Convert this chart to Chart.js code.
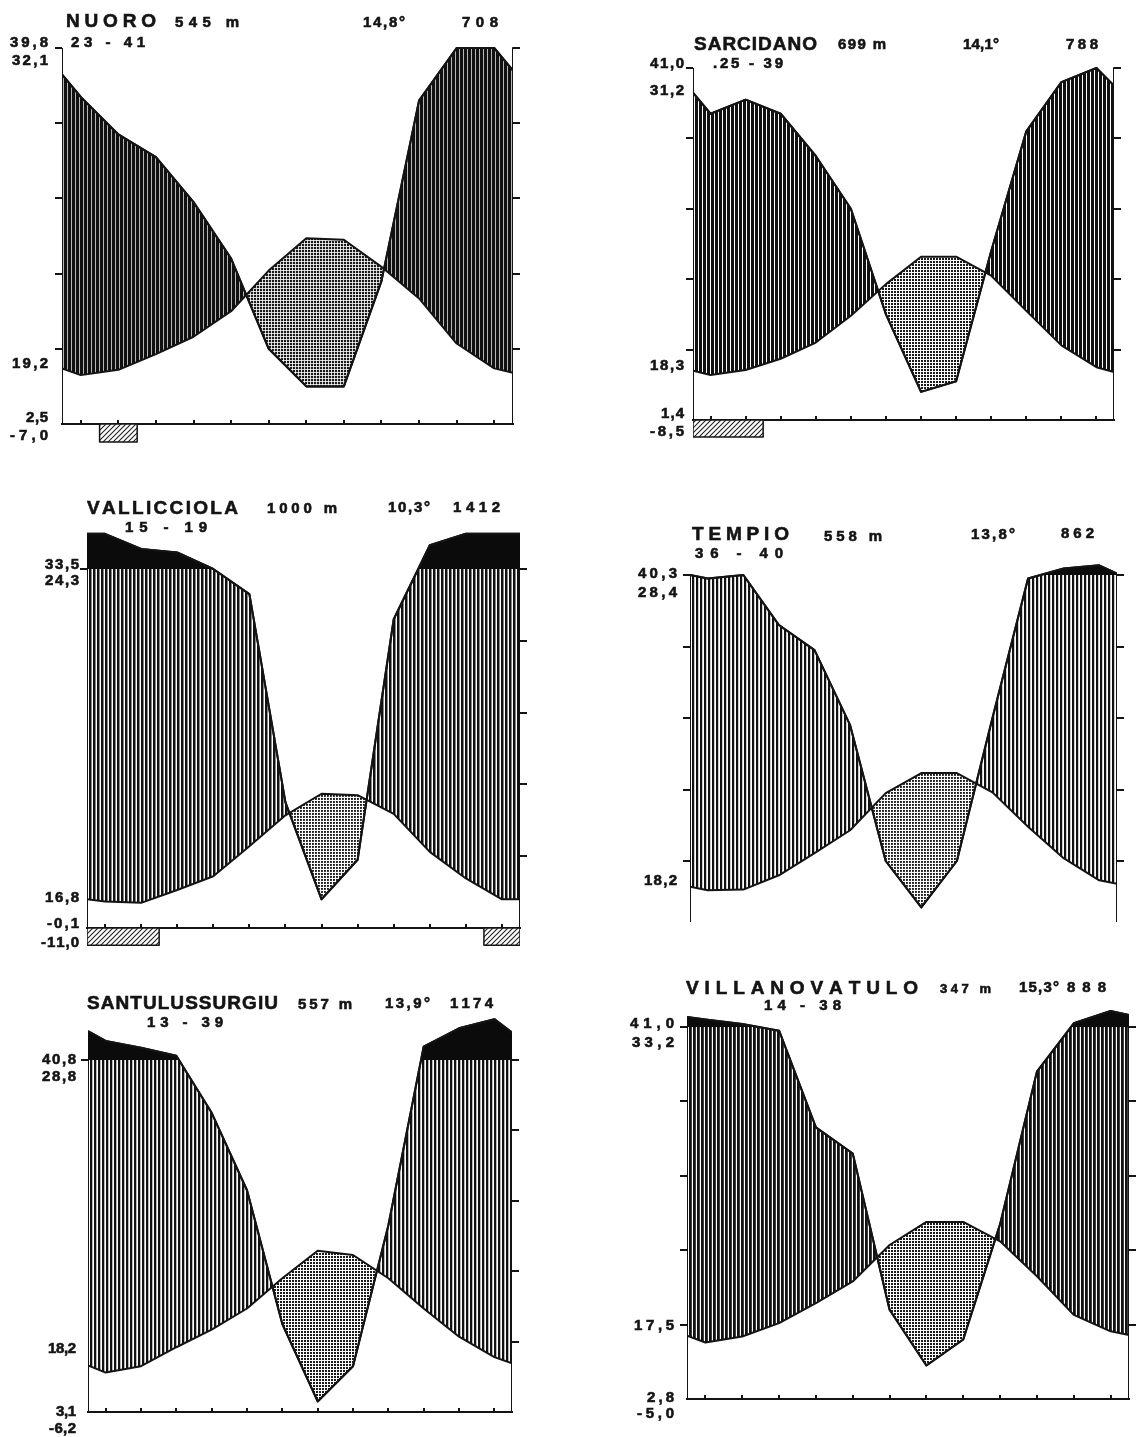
<!DOCTYPE html>
<html>
<head>
<meta charset="utf-8">
<title>Diagrammi climatici</title>
<script src="https://cdn.jsdelivr.net/npm/chart.js@4.4.1/dist/chart.umd.min.js"></script>
<style>
  html, body { margin: 0; padding: 0; background: #fff; }
  body { position: relative; width: 1141px; height: 1437px; overflow: hidden; }
  canvas { position: absolute; }
</style>
</head>
<body>
<script>
// month centres on the x axis (Italian initials)
const months = ['G', 'F', 'M', 'A', 'M', 'G', 'L', 'A', 'S', 'O', 'N', 'D'];

// mean monthly temperature (°C) and rainfall (mm).
// *Edge = [left, right] value where the curve meets the frame
const nuoroTemp = [6.5, 7.2, 9.3, 11.6, 15.0, 20.4, 24.7, 24.5, 20.9, 16.7, 10.7, 7.4];
const nuoroTempEdge = [7.4, 6.8];
const nuoroRain = [87, 77, 71, 59, 44, 20, 10, 10, 38, 86, 100, 100];
const nuoroRainEdge = [93, 94];
const nuoroFrost = [[1, 2]];
const nuoroInfo = ['NUORO', '545 m', '14,8°', '708', '23 - 41'];
const nuoroSide = ['39,8', '32,1', '19,2', '2,5', '-7,0'];

const sarcidanoTemp = [6.4, 7.1, 8.7, 11.0, 14.8, 19.3, 23.2, 23.2, 20.5, 15.5, 10.6, 7.5];
const sarcidanoTempEdge = [7.0, 6.8];
const sarcidanoRain = [87, 91, 87, 75, 60, 30, 8, 11, 48, 82, 96, 100];
const sarcidanoRainEdge = [93, 95];
const sarcidanoFrost = [[0, 2]];
const sarcidanoInfo = ['SARCIDANO', '699 m', '14,1°', '788', '.25 - 39'];
const sarcidanoSide = ['41,0', '31,2', '18,3', '1,4', '-8,5'];

const vallicciolaTemp = [3.7, 3.5, 5.3, 7.2, 11.4, 15.7, 18.7, 18.5, 15.9, 10.6, 6.9, 4.0];
const vallicciolaTempEdge = [4.0, 4.0];
const vallicciolaRain = [198, 156, 146, 100, 93, 35, 8, 19, 86, 166, 198, 198];
const vallicciolaRainEdge = [198, 198];
const vallicciolaFrost = [[0, 2], [11, 12]];
const vallicciolaInfo = ['VALLICCIOLA', '1000 m', '10,3°', '1412', '15 - 19'];
const vallicciolaSide = ['33,5', '24,3', '16,8', '-0,1', '-11,0'];

const tempioTemp = [5.9, 6.0, 8.0, 11.1, 14.3, 19.5, 22.3, 22.3, 19.6, 14.8, 10.4, 7.3];
const tempioTempEdge = [6.4, 6.8];
const tempioRain = [99, 100, 86, 79, 58, 20, 7, 20, 60, 99, 118, 127];
const tempioRainEdge = [100, 104];
const tempioFrost = [];
const tempioInfo = ['TEMPIO', '558 m', '13,8°', '862', '36 - 40'];
const tempioSide = ['40,3', '28,4', '18,2'];

const santuTemp = [5.6, 6.5, 9.2, 11.7, 14.7, 19.0, 22.9, 22.3, 19.0, 14.7, 10.7, 7.8];
const santuTempEdge = [6.6, 6.9];
const santuRain = [154, 135, 112, 85, 63, 25, 3, 13, 53, 138, 190, 216];
const santuRainEdge = [182, 178];
const santuFrost = [];
const santuInfo = ['SANTULUSSURGIU', '557 m', '13,9°', '1174', '13 - 39'];
const santuSide = ['40,8', '28,8', '18,2', '3,1', '-6,2'];

const villaTemp = [7.6, 8.4, 10.2, 12.9, 15.8, 20.7, 23.8, 23.8, 21.2, 16.5, 11.3, 9.1];
const villaTempEdge = [8.5, 8.6];
const villaRain = [120, 108, 99, 73, 66, 24, 9, 16, 47, 88, 110, 143];
const villaRainEdge = [127, 132];
const villaFrost = [];
const villaInfo = ['VILLANOVATULO', '347 m', '15,3°', '888', '14 - 38'];
const villaSide = ['41,0', '33,2', '17,5', '2,8', '-5,0'];

// ---- layout (page pixels): frame left/right, y of 50 °C (=100 mm) and of 0 °C
const FULL = [10, 20, 30, 40, 50];
const stations = [
  { temp: nuoroTemp, tempEdge: nuoroTempEdge, rain: nuoroRain, rainEdge: nuoroRainEdge, frost: nuoroFrost,
    info: nuoroInfo, side: nuoroSide,
    lay: { L: 62, R: 513, T: 48, B: 424, cut: 0, leftTicks: FULL, hatchW: 3.3, dotD: 2.2,
      infoPos: [[66, 20, 90, 19], [175, 22, 64, 15], [363, 22, 42, 15], [462, 22, 36, 15], [71, 42, 74, 15]],
      sideRight: 48, sidePos: [[42, 38], [60, 36], [363, 36], [417, 22], [435, 38]] } },
  { temp: sarcidanoTemp, tempEdge: sarcidanoTempEdge, rain: sarcidanoRain, rainEdge: sarcidanoRainEdge, frost: sarcidanoFrost,
    info: sarcidanoInfo, side: sarcidanoSide,
    lay: { L: 693, R: 1114, T: 68, B: 420, cut: 0, leftTicks: FULL, hatchW: 3.0, dotD: 2.0,
      infoPos: [[694, 43, 123, 19], [838, 44, 48, 15], [963, 44, 36, 15], [1066, 44, 32, 15], [713, 63, 70, 15]],
      sideRight: 684, sidePos: [[63, 34], [90, 34], [365, 34], [413, 23], [431, 34]] } },
  { temp: vallicciolaTemp, tempEdge: vallicciolaTempEdge, rain: vallicciolaRain, rainEdge: vallicciolaRainEdge, frost: vallicciolaFrost,
    info: vallicciolaInfo, side: vallicciolaSide,
    lay: { L: 87, R: 520, T: 569, B: 928, cut: 0, leftTicks: [50], hatchW: 2.5, dotD: 1.9,
      infoPos: [[87, 507, 151, 19], [267, 508, 70, 15], [388, 507, 42, 15], [453, 507, 47, 15], [125, 527, 82, 15]],
      sideRight: 79, sidePos: [[564, 34], [580, 34], [897, 34], [923, 32], [942, 38]] } },
  { temp: tempioTemp, tempEdge: tempioTempEdge, rain: tempioRain, rainEdge: tempioRainEdge, frost: tempioFrost,
    info: tempioInfo, side: tempioSide,
    lay: { L: 690, R: 1117, T: 575, B: 932.5, cut: 922, leftTicks: FULL, hatchW: 2.2, dotD: 1.9,
      infoPos: [[692, 533, 97, 19], [824, 536, 58, 15], [971, 534, 44, 15], [1061, 533, 33, 15], [695, 553, 88, 15]],
      sideRight: 677, sidePos: [[573, 39], [592, 39], [880, 33]] } },
  { temp: santuTemp, tempEdge: santuTempEdge, rain: santuRain, rainEdge: santuRainEdge, frost: santuFrost,
    info: santuInfo, side: santuSide,
    lay: { L: 88, R: 512, T: 1060, B: 1412, cut: 0, leftTicks: [50], hatchW: 2.3, dotD: 2.0,
      infoPos: [[87, 1002, 191, 19], [298, 1004, 54, 15], [385, 1003, 45, 15], [450, 1003, 43, 15], [147, 1022, 76, 15]],
      sideRight: 76, sidePos: [[1059, 34], [1076, 34], [1348, 28], [1411, 20], [1428, 27]] } },
  { temp: villaTemp, tempEdge: villaTempEdge, rain: villaRain, rainEdge: villaRainEdge, frost: villaFrost,
    info: villaInfo, side: villaSide,
    lay: { L: 687, R: 1129, T: 1027, B: 1399, cut: 0, leftTicks: FULL, hatchW: 2.8, dotD: 2.0,
      infoPos: [[686, 987, 232, 19], [940, 988, 51, 13], [1019, 987, 40, 15], [1067, 987, 39, 15], [764, 1005, 77, 15]],
      sideRight: 674, sidePos: [[1023, 44], [1042, 42], [1325, 40], [1397, 27], [1413, 37]] } }
];

const FROST_DEPTH = 2.4;   // height of the frost bars under the axis, °C units
const INK = '#141414';

// Walter-Lieth: 10 °C = 20 mm, above 100 mm the scale is reduced to 1/10
const rainPlot = mm => mm <= 100 ? mm / 2 : 50 + (mm - 100) / 20;

function series(edge, vals, f) {
  const pts = [{ x: 0, y: f(edge[0]) }];
  vals.forEach((v, i) => pts.push({ x: i + 0.5, y: f(v) }));
  pts.push({ x: 12, y: f(edge[1]) });
  return pts;
}

function tile(w, h, draw) {
  const c = document.createElement('canvas');
  c.width = w; c.height = h;
  const g = c.getContext('2d');
  g.fillStyle = '#fff';
  g.fillRect(0, 0, w, h);
  draw(g);
  return g.createPattern(c, 'repeat');
}
const hatch = lw => tile(4, 4, g => { g.fillStyle = '#111'; g.fillRect(0, 0, lw, 4); });
const dots = d => tile(3, 3, g => { g.fillStyle = '#1a1a1a'; g.fillRect(0, 0, d, d); });
const diagonal = () => tile(5, 5, g => {
  g.strokeStyle = '#222'; g.lineWidth = 1.1;
  g.beginPath();
  g.moveTo(-1, 6); g.lineTo(6, -1);
  g.moveTo(-1, 1); g.lineTo(1, -1);
  g.moveTo(4, 6); g.lineTo(6, 4);
  g.stroke();
});

// bold, slightly heavier text spread over a given width
function drawSpaced(ctx, text, x, y, w, size) {
  ctx.font = 'bold ' + size + 'px "Liberation Sans", Arial, sans-serif';
  ctx.lineWidth = 0.6;
  ctx.strokeStyle = INK;
  const chars = Array.from(text);
  const widths = chars.map(c => ctx.measureText(c).width);
  const total = widths.reduce((a, b) => a + b, 0);
  const gap = chars.length > 1 ? (w - total) / (chars.length - 1) : 0;
  let cx = x;
  chars.forEach((c, i) => {
    ctx.fillText(c, cx, y + size * 0.36);
    ctx.strokeText(c, cx, y + size * 0.36);
    cx += widths[i] + gap;
  });
}

function textPlugin(st, left, top) {
  return {
    id: 'testi',
    afterDraw(chart) {
      const ctx = chart.ctx;
      ctx.save();
      ctx.fillStyle = INK;
      ctx.textBaseline = 'alphabetic';
      st.info.forEach((t, i) => {
        const [x, y, w, s] = st.lay.infoPos[i];
        drawSpaced(ctx, t, x - left, y - top, w, s);
      });
      st.side.forEach((t, i) => {
        const [y, w] = st.lay.sidePos[i];
        drawSpaced(ctx, t, st.lay.sideRight - w - left, y - top, w, 15);
      });
      ctx.restore();
    }
  };
}

function makeChart(st) {
  const lay = st.lay;
  const ppu = (lay.B - lay.T) / 50;
  const left = lay.L - 90, top = lay.T - 80;
  const areaBottom = lay.cut || lay.B + 30;
  const bottom = lay.cut || lay.B + 45;

  const cv = document.createElement('canvas');
  cv.width = lay.R - lay.L + 120;
  cv.height = bottom - top;
  cv.style.left = left + 'px';
  cv.style.top = top + 'px';
  document.body.appendChild(cv);

  const datasets = [
    { label: 'temperatura', data: series(st.tempEdge, st.temp, v => v),
      borderColor: INK, borderWidth: 2, fill: false, order: 1 },
    { label: 'precipitazioni', data: series(st.rainEdge, st.rain, rainPlot),
      borderColor: INK, borderWidth: 2, order: 4,
      fill: { target: 0, above: hatch(lay.hatchW), below: dots(lay.dotD) } },
    { label: 'oltre 100 mm', data: series(st.rainEdge, st.rain, rainPlot),
      borderColor: INK, borderWidth: 2, order: 3,
      fill: { target: { value: 50 }, above: '#0b0b0b', below: 'rgba(0,0,0,0)' } },
    { label: 'cornice', data: [{ x: 0, y: 0 }, { x: 0, y: 50 }, { x: 6, y: null }, { x: 12, y: 50 }, { x: 12, y: 0 }],
      borderColor: INK, borderWidth: 2, fill: false, order: 2 }
  ];
  st.frost.forEach(([a, b]) => datasets.push({
    label: 'gelo',
    data: [{ x: a, y: 0 }, { x: a, y: -FROST_DEPTH }, { x: b, y: -FROST_DEPTH }, { x: b, y: 0 }, { x: a, y: 0 }],
    borderColor: INK, borderWidth: 1.5, backgroundColor: diagonal(), fill: 'shape', order: 5
  }));

  const yAxis = (pos, ticks) => ({
    type: 'linear', position: pos,
    min: -(areaBottom - lay.B) / ppu, max: 50 + 50 / ppu,
    afterFit: s => { s.width = 8; },
    afterBuildTicks: s => { s.ticks = ticks.map(v => ({ value: v })); },
    ticks: { display: false },
    grid: { drawOnChartArea: false, tickLength: 7, lineWidth: 2, color: INK },
    border: { display: false }
  });

  new Chart(cv, {
    type: 'line',
    data: { datasets },
    options: {
      responsive: false,
      animation: false,
      devicePixelRatio: 1,
      layout: { padding: { left: 82, right: 22, top: 30, bottom: bottom - areaBottom } },
      elements: { point: { radius: 0 }, line: { tension: 0, borderJoinStyle: 'round' } },
      plugins: { legend: { display: false }, tooltip: { enabled: false }, title: { display: false } },
      scales: {
        x: {
          type: 'linear', min: 0, max: 12, position: { y: 0 },
          afterBuildTicks: s => { s.ticks = months.map((m, i) => ({ value: i + 0.5 })); },
          ticks: { display: false },
          grid: { drawOnChartArea: false, tickLength: -5, lineWidth: 2, color: INK },
          border: { display: true, width: 2, color: INK }
        },
        y: yAxis('left', lay.leftTicks),
        y2: yAxis('right', FULL)
      }
    },
    plugins: [textPlugin(st, left, top)]
  });
}

stations.forEach(makeChart);
</script>
</body>
</html>
